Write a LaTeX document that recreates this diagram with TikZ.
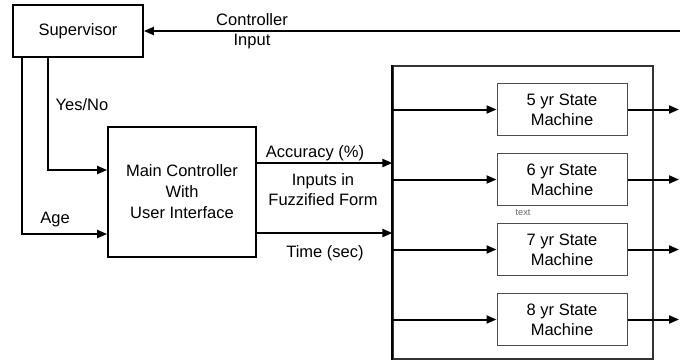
\documentclass[tikz,border=0pt]{standalone}
\usepackage{fontspec}
\setmainfont{Liberation Sans}
\usetikzlibrary{positioning, arrows.meta}

\begin{document}
\begin{tikzpicture}[
		x=0.5pt, y=-0.5pt,
		>={Triangle[length=5pt,width=4pt]},
		font=\fontsize{8.25}{10}\selectfont,
		% Style for the controller boxes
		block/.style={
			draw, line width=0.85pt, align=center, inner sep=0pt
		},
		% Style for the state machine boxes
		smbox/.style={
			draw=black!70, line width=0.5pt, align=center, inner sep=0pt,
			minimum width=65pt, minimum height=26pt
		},
		% Style for the signal lines
		wire/.style={line width=1pt},
		% Style for the line labels
		sig_label/.style={align=center, inner sep=1pt}
		]
		
		\useasboundingbox (0,0) rectangle (680,360);
		
		% ==========================================
		% 1. THE TOP: Supervisor
		% ==========================================
		\node[block, minimum width=65pt, minimum height=26pt] (sup) at (78,31) {Supervisor};
		
		\coordinate (ctrlin) at (680,31);
		\draw[wire, ->] (ctrlin) -- (sup.east);
		\node[sig_label] (ctrlinlabel) at (252,31) {Controller\\[0pt]Input};
		
		% ==========================================
		% 2. THE LEFT: Main Controller
		% ==========================================
		\node[block, minimum width=74pt, minimum height=65pt, font=\fontsize{8.25}{10.5}\selectfont] (main) at (182,192)
		{Main Controller\\With\\User Interface};
		
		% Yes/No and Age lines from the supervisor
		\coordinate (yn) at ([xshift=18pt]sup.south west);
		\coordinate (age) at ([xshift=5pt]sup.south west);
		\draw[wire, ->] (yn) |- ([yshift=11pt]main.west);
		\draw[wire, ->] (age) |- ([yshift=-21pt]main.west);
		\node[sig_label] (ynlabel) at (82,105) {Yes/No};
		\node[sig_label] (agelabel) at (55,220) {Age};
		
		% ==========================================
		% 3. THE RIGHT: State Machines
		% ==========================================
		\node[draw=black!80, line width=0.6pt, minimum width=130pt, minimum height=146.5pt, inner sep=0pt] (bus) at (523,212.5) {};
		\draw[wire] (bus.north west) -- (bus.south west);
		
		\node[smbox] (sm5) at (562,109.5) {5 yr State\\Machine};
		\node[smbox, below=8.5pt of sm5] (sm6) {6 yr State\\Machine};
		\node[smbox, below=8.5pt of sm6] (sm7) {7 yr State\\Machine};
		\node[smbox, below=8.5pt of sm7] (sm8) {8 yr State\\Machine};
		\node[text=black!60, font=\fontsize{4.6}{5}\selectfont] (textlabel) at (523,213) {text};
		
		% Inputs and outputs of the state machines
		\coordinate (outx) at (679,0);
		\foreach \m in {sm5, sm6, sm7, sm8} {
			\draw[wire, ->] (\m.west -| bus.west) -- (\m.west);
			\draw[wire, ->] (\m.east) -- (\m.east -| outx);
		}
		
		% ==========================================
		% 4. THE MIDDLE: Fuzzified inputs
		% ==========================================
		\coordinate (acc) at ([yshift=14.5pt]main.east);
		\coordinate (tim) at ([yshift=-20.5pt]main.east);
		\draw[wire, ->] (acc) -- (acc -| bus.west);
		\draw[wire, ->] (tim) -- (tim -| bus.west);
		\node[sig_label] (acclabel) at (315,153) {Accuracy (\%)};
		\node[sig_label] (fuzzlabel) at (323,190) {Inputs in\\Fuzzified Form};
		\node[sig_label] (timlabel) at (325,253) {Time (sec)};
		
	\end{tikzpicture}
\end{document}
